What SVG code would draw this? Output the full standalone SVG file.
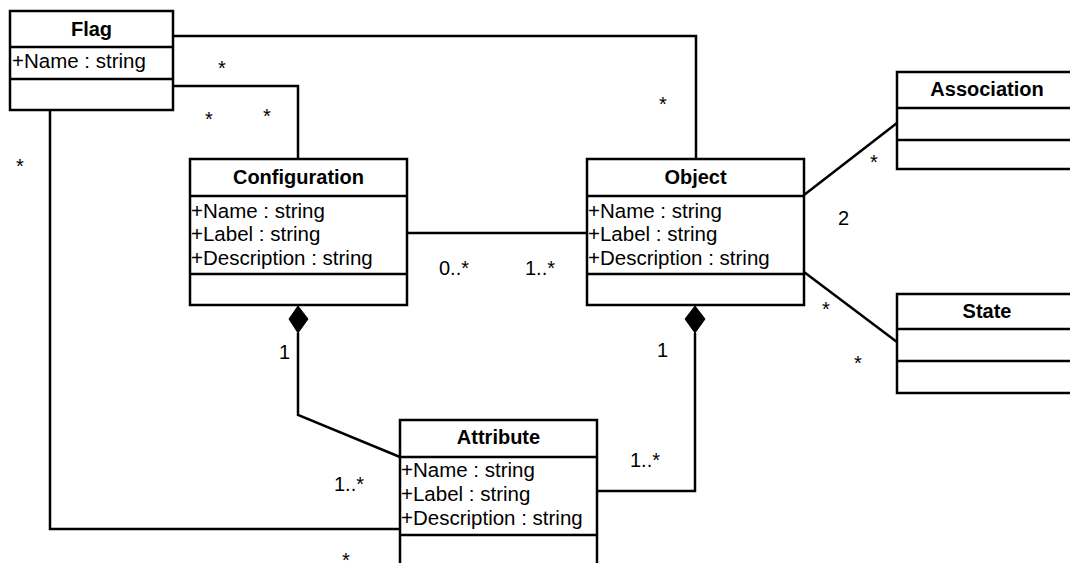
<svg xmlns="http://www.w3.org/2000/svg" width="1070" height="563" viewBox="0 0 1070 563">
<style>
.box{fill:#fff;stroke:#000;stroke-width:2.5}
.div{stroke:#000;stroke-width:2.5}
.ln{fill:none;stroke:#000;stroke-width:2.5}
.t{font-family:"Liberation Sans",Arial,sans-serif;font-size:20.5px;fill:#000}
.b{font-family:"Liberation Sans",Arial,sans-serif;font-size:20px;font-weight:bold;fill:#000;text-anchor:middle}
.m{font-family:"Liberation Sans",Arial,sans-serif;font-size:20px;fill:#000}
</style>
<rect width="1070" height="563" fill="#fff"/>
<g id="connectors">
<polyline class="ln" points="173,36 696,36 696,159"/>
<polyline class="ln" points="173,86 298,86 298,159"/>
<polyline class="ln" points="50,110 50,529 400,529"/>
<line class="ln" x1="407" y1="233" x2="587" y2="233"/>
<polyline class="ln" points="298,333 298,415 400,457"/>
<polygon points="298,306 308,319 298,333 289,319" fill="#000" stroke="#000" stroke-width="1"/>
<polyline class="ln" points="695,333 695,491 597,491"/>
<polygon points="695,306 705,319 695,333 685,319" fill="#000" stroke="#000" stroke-width="1"/>
<line class="ln" x1="804" y1="195" x2="897" y2="123"/>
<line class="ln" x1="804" y1="272" x2="897" y2="342"/>
</g>
<g id="labels">
<text class="m" x="222" y="75" text-anchor="middle">*</text>
<text class="m" x="209" y="126" text-anchor="middle">*</text>
<text class="m" x="267" y="123" text-anchor="middle">*</text>
<text class="m" x="20" y="173" text-anchor="middle">*</text>
<text class="m" x="663" y="111" text-anchor="middle">*</text>
<text class="m" x="439" y="275">0..*</text>
<text class="m" x="525" y="275">1..*</text>
<text class="m" x="874" y="169" text-anchor="middle">*</text>
<text class="m" x="838" y="225">2</text>
<text class="m" x="826" y="316" text-anchor="middle">*</text>
<text class="m" x="858" y="370" text-anchor="middle">*</text>
<text class="m" x="657" y="357">1</text>
<text class="m" x="279" y="359">1</text>
<text class="m" x="630" y="467">1..*</text>
<text class="m" x="334" y="491">1..*</text>
<text class="m" x="346" y="567" text-anchor="middle">*</text>
</g>
<g id="Flag">
<rect class="box" x="10" y="11" width="163" height="99"/>
<line class="div" x1="10" y1="47" x2="173" y2="47"/>
<line class="div" x1="10" y1="79" x2="173" y2="79"/>
<text class="b" x="91.5" y="36">Flag</text>
<text class="t" x="12" y="68">+Name : string</text>
</g>
<g id="Configuration">
<rect class="box" x="190" y="159" width="217" height="146"/>
<line class="div" x1="190" y1="196" x2="407" y2="196"/>
<line class="div" x1="190" y1="274" x2="407" y2="274"/>
<text class="b" x="298.5" y="184">Configuration</text>
<text class="t" x="191" y="218">+Name : string</text>
<text class="t" x="191" y="241">+Label : string</text>
<text class="t" x="191" y="265">+Description : string</text>
</g>
<g id="Object">
<rect class="box" x="587" y="159" width="217" height="146"/>
<line class="div" x1="587" y1="196" x2="804" y2="196"/>
<line class="div" x1="587" y1="274" x2="804" y2="274"/>
<text class="b" x="695.5" y="184">Object</text>
<text class="t" x="588" y="218">+Name : string</text>
<text class="t" x="588" y="241">+Label : string</text>
<text class="t" x="588" y="265">+Description : string</text>
</g>
<g id="Association">
<rect class="box" x="897" y="72" width="180" height="97"/>
<line class="div" x1="897" y1="108" x2="1077" y2="108"/>
<line class="div" x1="897" y1="140" x2="1077" y2="140"/>
<text class="b" x="987" y="96">Association</text>
</g>
<g id="State">
<rect class="box" x="897" y="294" width="180" height="99"/>
<line class="div" x1="897" y1="329" x2="1077" y2="329"/>
<line class="div" x1="897" y1="361" x2="1077" y2="361"/>
<text class="b" x="987" y="318">State</text>
</g>
<g id="Attribute">
<rect class="box" x="400" y="420" width="197" height="160"/>
<line class="div" x1="400" y1="457" x2="597" y2="457"/>
<line class="div" x1="400" y1="535" x2="597" y2="535"/>
<text class="b" x="498.5" y="444">Attribute</text>
<text class="t" x="401" y="477">+Name : string</text>
<text class="t" x="401" y="501">+Label : string</text>
<text class="t" x="401" y="525">+Description : string</text>
</g>
</svg>
